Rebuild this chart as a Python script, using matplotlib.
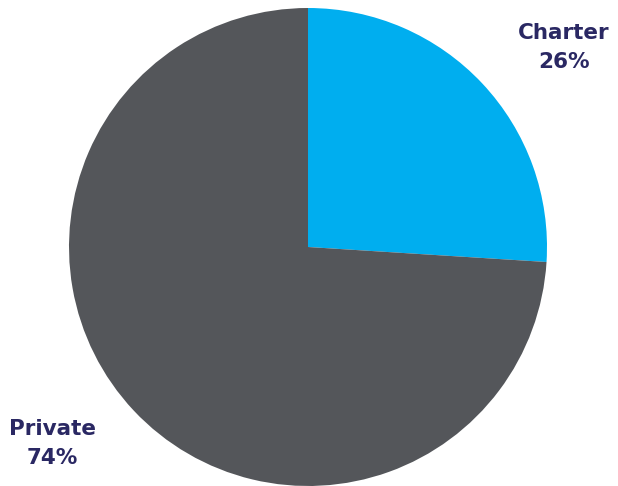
import matplotlib.pyplot as plt

categories = ["Charter", "Private"]
shares = [26, 74]
colors = ["#00AEEF", "#54565A"]

fig = plt.figure(figsize=(6.18, 4.86), dpi=100)
# pie centre at (308, 247) px, radius 239 px
ax = fig.add_axes([(308 - 239) / 618, (486 - 247 - 239) / 486, 478 / 618, 478 / 486])
ax.pie(shares, colors=colors, startangle=90, counterclock=False, radius=1.0,
       wedgeprops=dict(linewidth=0))
ax.set_xlim(-1, 1)
ax.set_ylim(-1, 1)
ax.set_aspect("equal")
ax.axis("off")

# label positions in axes data units
label_pos = [(1.071, 0.835), (-1.071, -0.822)]
for cat, val, (x, y) in zip(categories, shares, label_pos):
    ax.text(x, y, f"{cat}\n{val}%", ha="center", va="center", fontsize=15.5,
            fontweight="bold", family=["DejaVu Sans"], color="#2A2863",
            linespacing=1.6, clip_on=False)

fig.savefig("out.png", dpi=100)
